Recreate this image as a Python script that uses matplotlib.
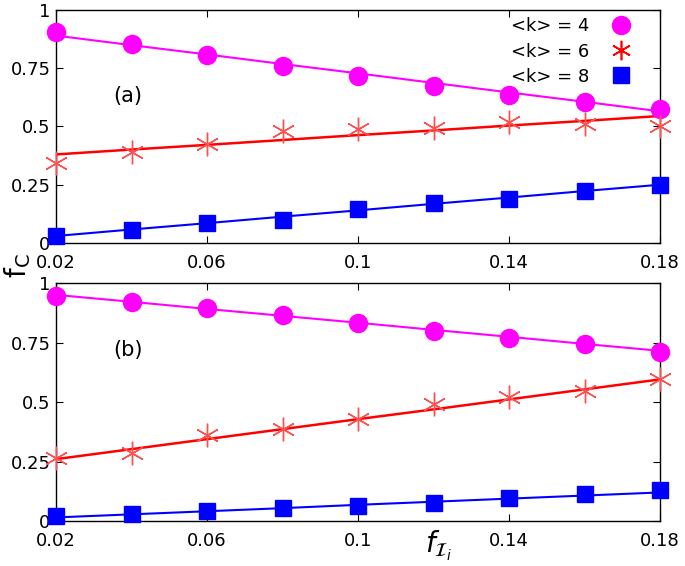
import matplotlib
matplotlib.use("Agg")
import matplotlib.pyplot as plt

x = [0.02, 0.04, 0.06, 0.08, 0.10, 0.12, 0.14, 0.16, 0.18]

# panel (a) markers
a_k4 = [0.905, 0.855, 0.805, 0.760, 0.715, 0.675, 0.635, 0.605, 0.575]
a_k6 = [0.345, 0.390, 0.425, 0.480, 0.490, 0.495, 0.520, 0.510, 0.500]
a_k8 = [0.030, 0.055, 0.085, 0.100, 0.145, 0.170, 0.190, 0.225, 0.250]
# panel (a) fitted lines
a_k4_fit = [0.890, 0.849, 0.809, 0.768, 0.728, 0.687, 0.646, 0.606, 0.565]
a_k6_fit = [0.380, 0.401, 0.421, 0.442, 0.463, 0.483, 0.504, 0.524, 0.545]
a_k8_fit = [0.030, 0.058, 0.085, 0.113, 0.140, 0.168, 0.195, 0.223, 0.250]

# panel (b) markers
b_k4 = [0.945, 0.920, 0.895, 0.865, 0.830, 0.800, 0.770, 0.745, 0.710]
b_k6 = [0.265, 0.285, 0.360, 0.385, 0.430, 0.490, 0.520, 0.545, 0.595]
b_k8 = [0.020, 0.030, 0.040, 0.055, 0.065, 0.075, 0.095, 0.115, 0.130]
# panel (b) fitted lines
b_k4_fit = [0.950, 0.921, 0.891, 0.862, 0.833, 0.803, 0.774, 0.744, 0.715]
b_k6_fit = [0.260, 0.302, 0.344, 0.386, 0.428, 0.469, 0.511, 0.553, 0.595]
b_k8_fit = [0.015, 0.028, 0.041, 0.054, 0.068, 0.081, 0.094, 0.107, 0.120]

labels = ["<k> = 4", "<k> = 6", "<k> = 8"]
xticks = [0.02, 0.06, 0.1, 0.14, 0.18]
xticklabels = ["0.02", "0.06", "0.1", "0.14", "0.18"]
yticks = [0, 0.25, 0.5, 0.75, 1]
yticklabels = ["0", "0.25", "0.5", "0.75", "1"]

MAG = "#ff00ff"
RED = "#ff0000"
RED_M = "#ff5050"
BLUE = "#0000ff"

fig = plt.figure(figsize=(6.85, 5.66), dpi=100)
ax1 = fig.add_axes([0.0818, 0.5707, 0.8818, 0.4117])
ax2 = fig.add_axes([0.0818, 0.0795, 0.8818, 0.4205])

def draw(ax, k4, k6, k8, f4, f6, f8, tag, tagy, legend):
    ax.plot(x, f4, color=MAG, lw=1.5, zorder=2)
    ax.plot(x, f6, color=RED, lw=1.8, zorder=2)
    ax.plot(x, f8, color=BLUE, lw=1.5, zorder=2)
    ax.plot(x, k4, ls="none", marker="o", ms=13, color=MAG, mec=MAG, zorder=3, clip_on=False)
    ax.plot(x, k6, ls="none", marker=(6, 2, 0), ms=17, mew=1.0, color=RED_M, mec=RED_M, zorder=3, clip_on=False)
    ax.plot(x, k8, ls="none", marker="s", ms=12, color=BLUE, mec=BLUE, zorder=3, clip_on=False)
    ax.set_xlim(0.02, 0.18)
    ax.set_ylim(0, 1)
    ax.set_xticks(xticks)
    ax.set_xticklabels(xticklabels)
    ax.set_yticks(yticks)
    ax.set_yticklabels(yticklabels)
    ax.tick_params(direction="in", top=True, right=True, length=5, width=0.8, labelsize=13)
    ax.tick_params(axis="x", pad=8)
    ax.tick_params(axis="y", pad=4)
    for s in ax.spines.values():
        s.set_linewidth(1.0)
    ax.text(0.039, tagy, tag, fontsize=15, ha="center", va="center")
    if legend:
        h4, = ax.plot([], [], ls="none", marker="o", ms=13, color=MAG, label=labels[0])
        h6, = ax.plot([], [], ls="none", marker=(6, 2, 0), ms=14, mew=1.2, color=RED, label=labels[1])
        h8, = ax.plot([], [], ls="none", marker="s", ms=12, color=BLUE, label=labels[2])
        ax.legend(handles=[h4, h6, h8], loc="upper right", frameon=False, markerfirst=False,
                  fontsize=13, handlelength=1.5, handletextpad=1.0, labelspacing=0.4,
                  borderaxespad=0.2, bbox_to_anchor=(0.976, 1.015))

draw(ax1, a_k4, a_k6, a_k8, a_k4_fit, a_k6_fit, a_k8_fit, "(a)", 0.63, True)
draw(ax2, b_k4, b_k6, b_k8, b_k4_fit, b_k6_fit, b_k8_fit, "(b)", 0.72, False)

fig.text(0.025, 0.530, r"f$_\mathregular{C}$", rotation=90, fontsize=20, ha="center", va="center")
fig.text(0.64, 0.035, r"$f_{\mathcal{I}_i}$", fontsize=20, ha="center", va="center")

fig.savefig("out.png", dpi=100)
